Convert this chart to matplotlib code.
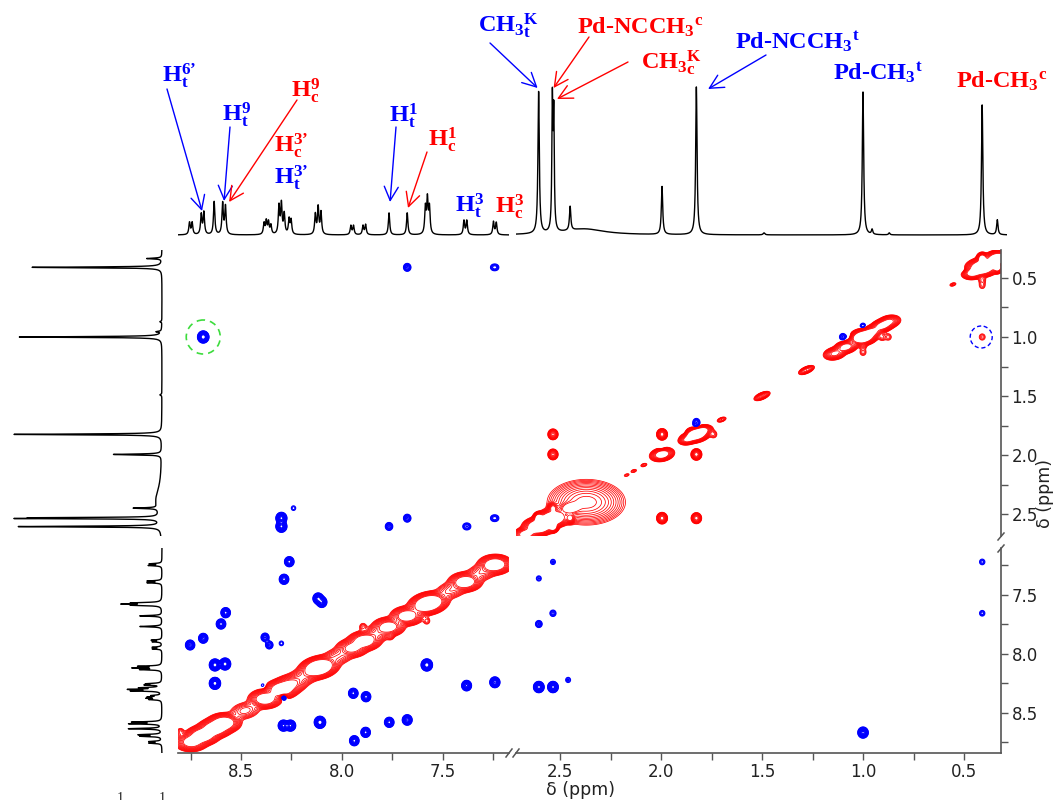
import numpy as np
import matplotlib
matplotlib.use("Agg")
import matplotlib.pyplot as plt
from matplotlib.patches import Ellipse
from matplotlib.lines import Line2D
from matplotlib.ticker import FormatStrFormatter

# ---------------------------------------------------------------- data
# 1H projection: line positions (ppm), heights, half widths (ppm)
PEAK_PPM = [8.755, 8.742, 8.697, 8.684, 8.633, 8.591, 8.577,
            8.386, 8.375, 8.364, 8.352,
            8.312, 8.300, 8.286, 8.262, 8.252,
            8.132, 8.118, 8.104,
            7.956, 7.943, 7.896, 7.883,
            7.767, 7.677,
            7.587, 7.577, 7.567,
            7.396, 7.382, 7.250, 7.236,
            2.606, 2.538, 2.531, 2.450, 2.380, 1.995, 1.825, 1.490,
            1.000, 0.955, 0.870, 0.410, 0.335]
PEAK_HEIGHT = [12, 12, 20, 22, 33, 31, 28,
               11, 13, 12, 9,
               28, 30, 20, 15, 14,
               20, 27, 22,
               9, 9, 9, 10,
               22, 22,
               26, 34, 26,
               14, 14, 13, 12,
               142, 128, 112, 24, 6, 48, 148, 2,
               143, 5, 2, 130, 15]
PEAK_HWHM = [0.004] * 32 + [0.004, 0.003, 0.003, 0.004, 0.12, 0.004, 0.004,
                            0.005, 0.004, 0.004, 0.004, 0.004, 0.004]

# diagonal peaks of the 2D map: position, amplitude, widths along / across the diagonal
DIAG_PPM = [8.745, 8.690, 8.632, 8.585, 8.480, 8.380, 8.300, 8.255, 8.200, 8.115,
            8.020, 7.950, 7.890, 7.830, 7.770, 7.678, 7.572, 7.460, 7.390, 7.310, 7.243,
            0.410, 0.335, 0.460, 0.555, 0.870, 0.905, 0.955, 1.000, 1.085, 1.140, 1.280,
            1.500, 1.700, 1.790, 1.825, 1.870, 1.995, 2.085, 2.135, 2.170, 2.450,
            2.535, 2.605, 2.670]
DIAG_AMP = [40, 60, 60, 60, 8, 50, 60, 25, 10, 100,
            8, 30, 50, 10, 40, 45, 100, 8, 50, 8, 60,
            100, 70, 35, 3, 25, 35, 30, 90, 35, 25, 14,
            15, 5, 25, 90, 25, 50, 3, 2.5, 2, 40,
            100, 100, 40]
DIAG_SU = [0.032, 0.032, 0.032, 0.032, 0.040, 0.032, 0.032, 0.032, 0.040, 0.040,
           0.040, 0.032, 0.032, 0.040, 0.032, 0.032, 0.040, 0.040, 0.032, 0.040, 0.032,
           0.032, 0.028, 0.022, 0.012, 0.025, 0.025, 0.025, 0.030, 0.025, 0.025, 0.022,
           0.022, 0.015, 0.020, 0.030, 0.020, 0.025, 0.012, 0.012, 0.012, 0.025,
           0.030, 0.030, 0.025]
DIAG_SV = [0.031] * 21 + [0.028, 0.024, 0.020, 0.008, 0.020, 0.020, 0.020, 0.024, 0.020,
                          0.020, 0.011, 0.011, 0.009, 0.016, 0.022, 0.016, 0.020, 0.008,
                          0.008, 0.008, 0.022, 0.028, 0.028, 0.022]

# off-diagonal peaks: F2, F1, amplitude (positive = red, negative = blue)
CROSS_F2 = [0.410, 0.335, 0.410, 0.410, 0.410, 1.000, 1.000, 0.905, 0.875, 1.740,
            1.825, 1.995, 2.535, 2.535, 1.995, 1.825, 2.605, 2.535, 2.450, 2.535,
            8.800, 7.896, 7.760, 7.580,
            8.687, 7.677, 7.252, 7.236, 7.677, 7.252, 7.236, 7.767, 7.389, 7.375,
            8.300, 8.300, 8.240,
            0.500, 0.470, 1.100, 1.065, 1.000, 1.825, 1.825, 1.880, 1.995,
            8.261, 8.287, 8.118, 8.100, 8.576, 8.599, 8.752, 8.687, 8.381, 8.360,
            8.300, 8.629, 8.579, 8.629, 8.390, 8.290, 7.944, 7.881, 7.580, 7.383,
            7.243, 8.290, 8.255, 8.109, 7.939, 7.883, 7.766, 7.677,
            2.535, 2.605, 2.535, 2.605, 2.605, 2.535, 2.460, 1.000, 0.410, 0.410]
CROSS_F1 = [0.335, 0.410, 0.520, 0.565, 1.000, 1.075, 1.130, 1.000, 1.000, 1.825,
            1.995, 1.825, 1.825, 1.995, 2.535, 2.535, 2.535, 2.605, 2.535, 2.450,
            8.660, 7.770, 7.850, 7.720,
            1.000, 0.410, 0.410, 0.410, 2.535, 2.535, 2.535, 2.605, 2.605, 2.605,
            2.535, 2.605, 2.450,
            0.440, 0.440, 1.000, 1.000, 0.910, 1.720, 1.755, 1.820, 1.955,
            7.218, 7.367, 7.530, 7.560, 7.650, 7.746, 7.924, 7.867, 7.859, 7.924,
            7.910, 8.093, 8.085, 8.249, 8.270, 8.356, 8.333, 8.362, 8.093, 8.268,
            8.240, 8.607, 8.607, 8.579, 8.735, 8.664, 8.579, 8.559,
            7.220, 7.360, 7.655, 7.746, 8.280, 8.280, 8.220, 8.666, 7.220, 7.655]
CROSS_AMP = [50, 50, 3, 2.2, 2.5, 3, 2.5, 3, 2.5, 3,
             24, 24, 16, 16, 24, 18, 60, 60, 25, 25,
             3, 3, 2.5, 2.5,
             -28, -4, -1.8, -1.8, -4, -1.8, -1.8, -4, -1.8, -1.8,
             -22, -22, -1.6,
             -2, -2, -3, -3, -2.5, -3, -3, -2.5, -2.5,
             -10, -10, -16, -14, -10, -10, -9, -9, -5, -4,
             -1.6, -26, -26, -26, -1.8, -12, -10, -10, -28, -12,
             -14, -16, -16, -28, -10, -10, -10, -12,
             -1.8, -1.8, -2.5, -3, -18, -18, -1.8, -16, -2, -2]

# broad solvent signal on the diagonal
BROAD_F2, BROAD_F1, BROAD_AMP, BROAD_SIGMA = 2.37, 2.40, 22, 0.078

# axis windows of the broken scales (ppm)
F2_LEFT = (8.812, 7.173)
F2_RIGHT = (2.718, 0.317)
F1_UPPER = (0.263, 2.686)
F1_LOWER = (7.102, 8.839)

# ---------------------------------------------------------------- style
W, H = 1053, 800
RED, BLUE = "#ff0000", "#0000ff"
SPINE = "#555555"
CROSS_SX, CROSS_SY = 0.011, 0.020
POS_LEVELS = 1.3 ** np.arange(12)
NEG_LEVELS = -POS_LEVELS[::-1]

plt.rcParams.update({
    "font.family": "DejaVu Sans",
    "mathtext.fontset": "custom",
    "mathtext.rm": "Liberation Serif:bold",
    "mathtext.it": "Liberation Serif:bold",
    "mathtext.bf": "Liberation Serif:bold",
})

fig = plt.figure(figsize=(W / 100, H / 100), dpi=100)
fig.patch.set_facecolor("white")


def rect(x0, y0, x1, y1):
    return [x0 / W, 1 - y1 / H, (x1 - x0) / W, (y1 - y0) / H]


def fig_pt(x, y):
    return x / W, 1 - y / H


def projection(ppm):
    s = np.zeros_like(ppm)
    for p, h, w in zip(PEAK_PPM, PEAK_HEIGHT, PEAK_HWHM):
        s += h / (1 + ((ppm - p) / w) ** 2)
    return s


def nmr_map(f2, f1):
    X, Y = np.meshgrid(f2, f1)
    Z = np.zeros_like(X)
    lo2, hi2 = min(f2) - 0.3, max(f2) + 0.3
    lo1, hi1 = min(f1) - 0.3, max(f1) + 0.3
    for p, a, su, sv in zip(DIAG_PPM, DIAG_AMP, DIAG_SU, DIAG_SV):
        if lo2 < p < hi2 and lo1 < p < hi1:
            u = ((X - p) + (Y - p)) / np.sqrt(2)
            v = ((X - p) - (Y - p)) / np.sqrt(2)
            Z += a * np.exp(-0.5 * (u / su) ** 2 - 0.5 * (v / sv) ** 2)
    for x, y, a in zip(CROSS_F2, CROSS_F1, CROSS_AMP):
        if lo2 < x < hi2 and lo1 < y < hi1:
            Z += a * np.outer(np.exp(-0.5 * ((f1 - y) / CROSS_SY) ** 2),
                              np.exp(-0.5 * ((f2 - x) / CROSS_SX) ** 2))
    Z += BROAD_AMP * np.outer(np.exp(-0.5 * ((f1 - BROAD_F1) / BROAD_SIGMA) ** 2),
                              np.exp(-0.5 * ((f2 - BROAD_F2) / BROAD_SIGMA) ** 2))
    return Z


# ---------------------------------------------------------------- 2D panels
X_PIX = {"L": (178, 509), "R": (516, 1001)}
Y_PIX = {"U": (250, 536), "D": (548, 753)}
F2_LIM = {"L": F2_LEFT, "R": F2_RIGHT}
F1_LIM = {"U": F1_UPPER, "D": F1_LOWER}

panels = {}
for xs in "LR":
    for ys in "UD":
        x0, x1 = X_PIX[xs]
        y0, y1 = Y_PIX[ys]
        ax = fig.add_axes(rect(x0, y0, x1, y1))
        f2 = np.linspace(F2_LIM[xs][0], F2_LIM[xs][1], 750)
        f1 = np.linspace(F1_LIM[ys][0], F1_LIM[ys][1], 750)
        Z = nmr_map(f2, f1)
        if Z.max() > POS_LEVELS[0]:
            ax.contour(f2, f1, Z, levels=POS_LEVELS, colors=RED, linewidths=0.55)
        if Z.min() < NEG_LEVELS[-1]:
            ax.contour(f2, f1, Z, levels=NEG_LEVELS, colors=BLUE, linewidths=0.85,
                       linestyles="solid")
        ax.set_xlim(*F2_LIM[xs])
        ax.set_ylim(F1_LIM[ys][1], F1_LIM[ys][0])
        for s in ax.spines.values():
            s.set_visible(False)
        ax.tick_params(which="both", direction="out", length=5, width=1, pad=2.5,
                       color=SPINE, labelsize=12, labelcolor="#222222")
        ax.set_xticks([])
        ax.set_yticks([])
        panels[xs + ys] = ax

# bottom scale
for key, major, minor in (("LD", [8.5, 8.0, 7.5], [8.75, 8.25, 7.75, 7.25]),
                          ("RD", [2.5, 2.0, 1.5, 1.0, 0.5], [2.25, 1.75, 1.25, 0.75])):
    ax = panels[key]
    ax.spines["bottom"].set_visible(True)
    ax.spines["bottom"].set_color(SPINE)
    ax.spines["bottom"].set_linewidth(1.2)
    ax.set_xticks(major)
    ax.set_xticks(minor, minor=True)
    ax.xaxis.set_major_formatter(FormatStrFormatter("%.1f"))

# right scale
for key, major, minor in (("RU", [0.5, 1.0, 1.5, 2.0, 2.5], [0.75, 1.25, 1.75, 2.25]),
                          ("RD", [7.5, 8.0, 8.5], [7.25, 7.75, 8.25, 8.75])):
    ax = panels[key]
    ax.spines["right"].set_visible(True)
    ax.spines["right"].set_color(SPINE)
    ax.spines["right"].set_linewidth(1.2)
    ax.yaxis.tick_right()
    ax.set_yticks(major)
    ax.set_yticks(minor, minor=True)
    ax.yaxis.set_major_formatter(FormatStrFormatter("%.1f"))

# break marks on both scales
for (xa, ya, xb, yb) in ((506, 757, 512, 749), (513, 757, 519, 749),
                         (998, 540, 1004, 533), (998, 552, 1004, 545)):
    p0, p1 = fig_pt(xa, ya), fig_pt(xb, yb)
    fig.add_artist(Line2D([p0[0], p1[0]], [p0[1], p1[1]], color=SPINE, lw=1.1,
                          transform=fig.transFigure))

fig.text(*fig_pt(580, 790), "δ (ppm)", ha="center", va="center", fontsize=12.5,
         color="#222222")
fig.text(*fig_pt(1045, 494), "δ (ppm)", ha="center", va="center", fontsize=12.5,
         rotation=90, color="#222222")

# highlighted correlations
panels["LU"].add_patch(Ellipse((8.687, 1.0), 2 * 17 / 202, 2 * 17 / 118, fill=False,
                               ec="#3ddc3d", lw=1.2, ls=(0, (4, 3))))
panels["RU"].add_patch(Ellipse((0.415, 1.0), 2 * 11 / 202, 2 * 11 / 118, fill=False,
                               ec=BLUE, lw=1.0, ls=(0, (3, 2))))

# ---------------------------------------------------------------- 1D projections
top_axes = {}
for xs, (x0, x1), lim in (("L", (178, 509), F2_LEFT), ("R", (516, 1007), (F2_RIGHT[0], 0.287))):
    ax = fig.add_axes(rect(x0, 0, x1, 240))
    ppm = np.linspace(lim[0], lim[1], 5000)
    ax.plot(ppm, projection(ppm), color="black", lw=1.0)
    ax.set_xlim(*lim)
    ax.set_ylim(-5, 235)
    ax.axis("off")
    top_axes[xs] = ax

for ys, (y0, y1), lim in (("U", (250, 536), F1_UPPER), ("D", (548, 753), F1_LOWER)):
    ax = fig.add_axes(rect(0, y0, 165, y1))
    ppm = np.linspace(lim[0], lim[1], 5000)
    ax.plot(projection(ppm), ppm, color="black", lw=1.0)
    ax.set_xlim(162, -3)
    ax.set_ylim(lim[1], lim[0])
    ax.axis("off")

# ---------------------------------------------------------------- assignments
LABELS = [
    (r"H$^{6’}_{t}$", BLUE, (179, 76)),
    (r"H$^{9}_{t}$", BLUE, (236, 115)),
    (r"H$^{9}_{c}$", RED, (305, 91)),
    (r"H$^{3’}_{c}$", RED, (291, 146)),
    (r"H$^{3’}_{t}$", BLUE, (291, 178)),
    (r"H$^{1}_{t}$", BLUE, (403, 116)),
    (r"H$^{1}_{c}$", RED, (442, 140)),
    (r"H$^{3}_{t}$", BLUE, (469, 206)),
    (r"H$^{3}_{c}$", RED, (509, 207)),
    (r"CH$_{3}{}^{K}_{t}$", BLUE, (508, 26)),
    (r"Pd-NCCH$_{3}{}^{c}$", RED, (640, 27)),
    (r"CH$_{3}{}^{K}_{c}$", RED, (671, 63)),
    (r"Pd-NCCH$_{3}{}^{t}$", BLUE, (797, 42)),
    (r"Pd-CH$_{3}{}^{t}$", BLUE, (878, 73)),
    (r"Pd-CH$_{3}{}^{c}$", RED, (1002, 81)),
]
for text, color, (x, y) in LABELS:
    fig.text(*fig_pt(x, y), text, color=color, ha="center", va="center",
             fontsize=17.5, family="Liberation Serif", weight="bold")

# arrows: start (figure pixels from top-left) -> tip (ppm, intensity)
ARROWS = [
    (BLUE, (167, 89), (8.693, 24)),
    (BLUE, (230, 127), (8.584, 34)),
    (RED, (297, 100), (8.559, 33)),
    (BLUE, (396, 127), (7.762, 33)),
    (RED, (427, 152), (7.673, 27)),
    (BLUE, (490, 43), (2.611, 147)),
    (RED, (589, 37), (2.532, 147)),
    (RED, (628, 62), (2.515, 136)),
    (BLUE, (766, 55), (1.767, 146)),
]
for color, (sx, sy), tip in ARROWS:
    ax = top_axes["L"] if tip[0] > 5 else top_axes["R"]
    ax.annotate("", xy=tip, xycoords="data", xytext=(sx, H - sy),
                textcoords="figure pixels", annotation_clip=False,
                arrowprops=dict(arrowstyle="->,head_length=0.55,head_width=0.28",
                                color=color, lw=1.0, shrinkA=0, shrinkB=0,
                                mutation_scale=18))

# caption line running below the frame
for x in (120, 162):
    fig.text(*fig_pt(x, 792), "1", ha="center", va="top", fontsize=10,
             family="Liberation Serif", color="#222222")

fig.savefig("out.png", dpi=100, facecolor="white")
